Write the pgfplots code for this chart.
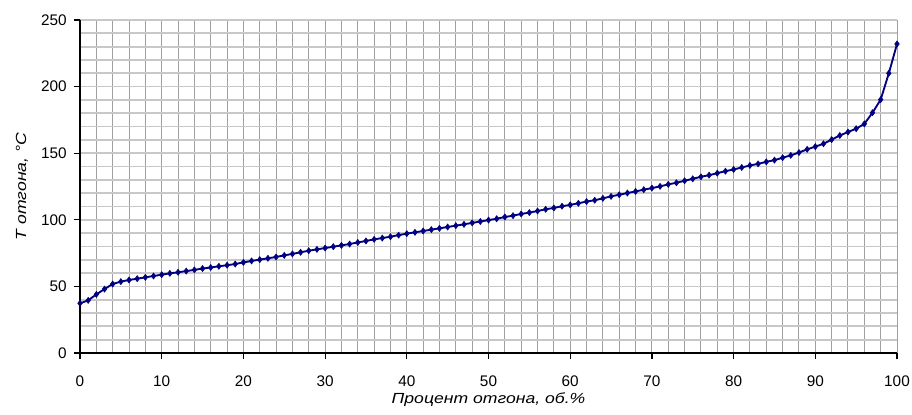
\documentclass[border=0pt]{standalone}
\usepackage{pgfplots}
\pgfplotsset{compat=1.18}
\usepackage{fontspec}
\setmainfont{Liberation Sans}
\newfontfamily\labfont{Liberation Sans}[FakeStretch=1.2]
\usetikzlibrary{calc}
\definecolor{linec}{HTML}{000080}
\definecolor{vgrid}{HTML}{A0A0A0}
\definecolor{hgrid}{HTML}{C8C8C8}
\begin{document}
\begin{tikzpicture}
\begin{axis}[
  name=ax,
  scale only axis,
  width=612.75pt, height=249.75pt,
  xmin=0, xmax=100, ymin=0, ymax=250,
  axis x line*=bottom, axis y line*=left,
  axis line style={black, line width=1.2pt, -},
  xtick={0,10,...,100}, ytick={0,50,...,250},
  minor x tick num=4, minor y tick num=4,
  tick style={black, line width=0.9pt},
  major tick length=4.5pt, minor tick length=0pt,
  tick align=outside,
  grid=both,
  x grid style={draw=vgrid, line width=0.75pt},
  y grid style={draw=hgrid, line width=1.3pt},
  minor x grid style={draw=vgrid, line width=0.75pt},
  minor y grid style={draw=hgrid, line width=1.3pt},
  /pgf/number format/assume math mode=true,
  ticklabel style={font=\fontsize{11.5pt}{13pt}\selectfont},
  xticklabel style={yshift=-9pt},
  yticklabel style={xshift=-2pt},
  xlabel={\itshape Процент отгона, об.\%},
  ylabel={\itshape T отгона, °C},
  label style={font=\labfont\fontsize{11pt}{13pt}\selectfont},
  xlabel style={yshift=2pt},
  ylabel style={yshift=3pt},
  clip=false,
]
\addplot[color=linec, line width=1.4pt, mark=diamond*, mark size=2.3pt,
  mark options={fill=linec, draw=linec, line width=0.4pt}] coordinates {
(0,37.3)(1,39.5)(2,44)(3,48)(4,51.8)(5,53.6)(6,54.8)(7,55.8)(8,56.8)(9,57.8)
(10,58.8)(11,59.8)(12,60.6)(13,61.5)(14,62.4)(15,63.4)(16,64.2)(17,65.1)(18,65.9)(19,66.8)
(20,68.0)(21,69.1)(22,70.1)(23,71.1)(24,72.1)(25,73.3)(26,74.4)(27,75.6)(28,76.8)(29,77.8)
(30,78.8)(31,79.8)(32,80.8)(33,81.8)(34,83.0)(35,84.1)(36,85.3)(37,86.3)(38,87.3)(39,88.5)
(40,89.6)(41,90.6)(42,91.6)(43,92.6)(44,93.6)(45,94.6)(46,95.6)(47,96.6)(48,97.7)(49,98.7)
(50,99.8)(51,100.8)(52,102.1)(53,103.1)(54,104.4)(55,105.4)(56,106.6)(57,107.9)(58,108.9)(59,110.2)
(60,111.2)(61,112.4)(62,113.7)(63,114.7)(64,116.1)(65,117.6)(66,118.8)(67,120.1)(68,121.3)(69,122.6)
(70,123.8)(71,125.1)(72,126.6)(73,127.8)(74,129.3)(75,130.8)(76,132.3)(77,133.5)(78,135.0)(79,136.5)
(80,137.8)(81,139.3)(82,140.8)(83,142.0)(84,143.5)(85,144.8)(86,146.6)(87,148.4)(88,150.5)(89,152.9)
(90,154.9)(91,157.1)(92,160.2)(93,163.3)(94,165.9)(95,168.4)(96,172.0)(97,180.4)(98,190.2)(99,210.0)
(100,232.0)
};
\end{axis}
\pgfresetboundingbox
\path ($(ax.south west)+(-60pt,-45.75pt)$) rectangle ($(ax.north east)+(11.25pt,15pt)$);
\end{tikzpicture}
\end{document}
